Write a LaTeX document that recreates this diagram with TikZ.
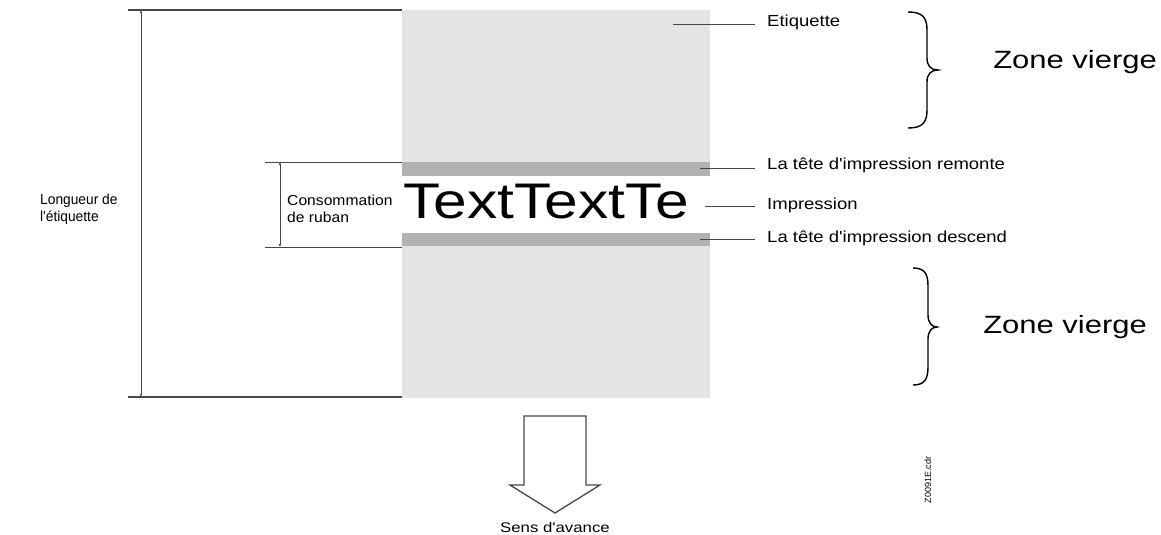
\documentclass[tikz,border=0pt]{standalone}
\usepackage{fontspec}
\setmainfont{Liberation Sans}
\usetikzlibrary{arrows.meta}

\definecolor{etqgrey}{RGB}{228,228,228}
\definecolor{bandgrey}{RGB}{178,178,178}
\definecolor{linegrey}{RGB}{70,70,70}
\newcommand\apos{\textquotesingle}

\begin{document}
\begin{tikzpicture}[%
        x = 1pt, y = -1pt,
        small text/.style = {%
          font = \fontsize{16}{17}\selectfont,
          xscale = 1.155,
          inner sep = 0pt,
          align = left,
          anchor = west,
        },
        side text/.style = {%
          font = \fontsize{14.5}{17}\selectfont,
          inner sep = 0pt,
          align = left,
          anchor = west,
        },
        zone text/.style = {%
          font = \fontsize{25}{28}\selectfont,
          xscale = 1.24,
          inner sep = 0pt,
          anchor = west,
        },
        rule/.style = {draw = linegrey, line width = 1.3pt},
        dim/.style = {draw = linegrey, line width = 0.7pt,
          {Latex[length=3pt,width=2.5pt]}-{Latex[length=3pt,width=2.5pt]}},
        lead/.style = {draw = linegrey, line width = 0.9pt, shorten > = 12pt},
        curly/.style = {draw = black, line width = 1.4pt},
      ]
      \useasboundingbox (0,0) rectangle (1161,535);

      % label strip
      \fill[etqgrey] (402,10) rectangle (710,398);
      \fill[bandgrey] (402,162) rectangle (710,176);
      \fill[white] (402,176) rectangle (710,233);
      \fill[bandgrey] (402,233) rectangle (710,246);
      \node[inner sep=0pt, anchor=base west, xscale=1.21,
        font=\fontsize{50}{56}\selectfont] (print) at (403,218) {TextTextTe};

      % label length
      \coordinate (len-a) at (128,10);
      \coordinate (len-b) at (402,10);
      \coordinate (len-c) at (128,397);
      \coordinate (len-d) at (402,397);
      \draw[rule] (len-a) -- (len-b);
      \draw[rule] (len-c) -- (len-d);
      \draw[dim] (141,10) -- (141,397);
      \node[side text, xscale=0.95] (longueur) at (40,209.5)
        {Longueur de\\l\apos étiquette};

      % ribbon consumption
      \coordinate (rib-a) at (265,162);
      \coordinate (rib-b) at (402,162);
      \coordinate (rib-c) at (265,247);
      \coordinate (rib-d) at (402,247);
      \draw[rule, line width=1pt] (rib-a) -- (rib-b);
      \draw[rule, line width=1pt] (rib-c) -- (rib-d);
      \draw[dim] (280,162) -- (280,247);
      \node[side text, xscale=1.08] (conso) at (287,208.5)
        {Consommation\\de ruban};

      % callouts
      \node[small text] (etiquette) at (767,22) {Etiquette};
      \node[small text] (remonte) at (767,165) {La tête d\apos impression remonte};
      \node[small text] (impression) at (767,205) {Impression};
      \node[small text] (descend) at (767,238) {La tête d\apos impression descend};
      \coordinate (etiquette-in) at (673,24);
      \coordinate (remonte-in) at (700,168);
      \coordinate (impression-in) at (705,206);
      \coordinate (descend-in) at (700,239);
      \draw[lead] (etiquette-in) -- (etiquette-in -| etiquette.west);
      \draw[lead] (remonte-in) -- (remonte-in -| remonte.west);
      \draw[lead] (impression-in) -- (impression-in -| impression.west);
      \draw[lead] (descend-in) -- (descend-in -| descend.west);

      % blank zones
      \draw[curly] (908,12) .. controls (922,12) and (927,17) .. (927,30)
        -- (927,58) .. controls (927,66) and (931,70) .. (938,70)
        .. controls (931,70) and (927,74) .. (927,82)
        -- (927,110) .. controls (927,123) and (922,128) .. (908,128);
      \draw[curly] (913,268) .. controls (924,268) and (928,273) .. (928,286)
        -- (928,315) .. controls (928,323) and (932,327) .. (937,327)
        .. controls (932,327) and (928,331) .. (928,339)
        -- (928,367) .. controls (928,380) and (924,385) .. (913,385);
      \node[zone text] (zone-top) at (993,62) {Zone vierge};
      \node[zone text] (zone-bot) at (983,327) {Zone vierge};

      % feed direction
      \draw[draw=linegrey, line width=1.3pt, line join=miter]
        (524,416) -- (586,416) -- (586,485) -- (600,485) -- (555,513)
        -- (510,485) -- (524,485) -- cycle;
      \node[inner sep=0pt, xscale=1.2, font=\fontsize{14}{16}\selectfont]
        (sens) at (555,527) {Sens d\apos avance};

      \node[inner sep=0pt, rotate=90, font=\fontsize{9}{10}\selectfont]
        (fichier) at (928,480) {Z0091E.cdr};
    \end{tikzpicture}
\end{document}
